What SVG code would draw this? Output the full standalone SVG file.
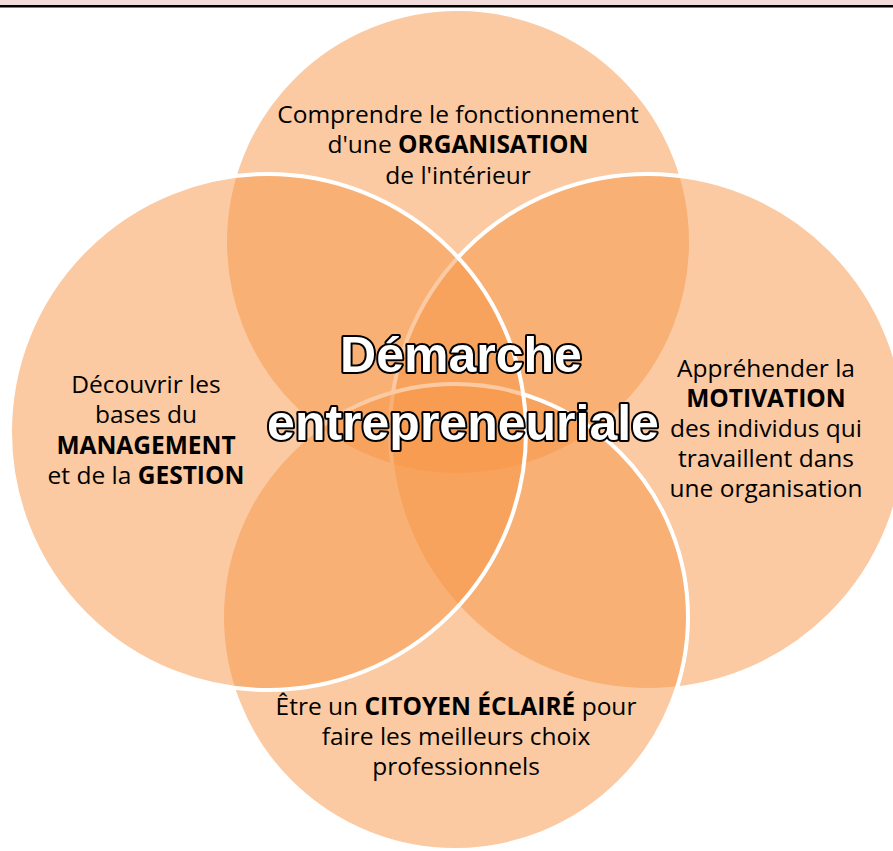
<svg xmlns="http://www.w3.org/2000/svg" width="893" height="851" viewBox="0 0 893 851">
<style>
.c{fill:#F79646;fill-opacity:0.5;stroke:#FFFFFF;stroke-width:4}
.t{font-family:"Open Sans","Noto Sans","Liberation Sans",sans-serif;font-size:24.5px;fill:#000;text-anchor:middle}
.b{font-weight:bold}
.title{font-family:"Liberation Sans",Arial,sans-serif;font-weight:bold;font-size:50px;fill:#FFFFFF;stroke:#000;stroke-width:4;stroke-linejoin:round;paint-order:stroke fill;text-anchor:middle}
</style>
<rect x="0" y="0" width="893" height="851" fill="#FFFFFF"/>
<g id="circle-top">
<circle class="c" cx="458" cy="242" r="233"/>
</g>
<g id="circle-right">
<circle class="c" cx="648" cy="432" r="258"/>
</g>
<g id="circle-bottom">
<circle class="c" cx="455" cy="617" r="233"/>
</g>
<g id="circle-left">
<circle class="c" cx="268" cy="432" r="258"/>
</g>
<g id="header">
<rect x="0" y="0" width="893" height="5.5" fill="#F2DCDB"/>
<rect x="0" y="5" width="893" height="2.5" fill="#000000"/>
</g>
<g id="label-top">
<text class="t" x="458" y="123">Comprendre le fonctionnement</text>
<text class="t" x="458" y="153">d'une <tspan class="b">ORGANISATION</tspan></text>
<text class="t" x="458" y="184">de l'intérieur</text>
</g>
<g id="label-left">
<text class="t" x="146" y="393">Découvrir les</text>
<text class="t" x="146" y="423">bases du</text>
<text class="t b" x="146" y="454">MANAGEMENT</text>
<text class="t" x="146" y="484">et de la <tspan class="b">GESTION</tspan></text>
</g>
<g id="label-right">
<text class="t" x="766" y="377">Appréhender la</text>
<text class="t b" x="766" y="407">MOTIVATION</text>
<text class="t" x="766" y="437">des individus qui</text>
<text class="t" x="766" y="467">travaillent dans</text>
<text class="t" x="766" y="497">une organisation</text>
</g>
<g id="label-bottom">
<text class="t" x="456" y="715">Être un <tspan class="b">CITOYEN ÉCLAIRÉ</tspan> pour</text>
<text class="t" x="456" y="745">faire les meilleurs choix</text>
<text class="t" x="456" y="775">professionnels</text>
</g>
<g id="title">
<text class="title" x="461" y="372">Démarche</text>
<text class="title" x="463" y="440">entrepreneuriale</text>
</g>
<g id="connectors"></g>
</svg>
